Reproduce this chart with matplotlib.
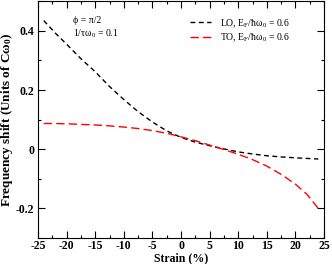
import matplotlib
matplotlib.use('Agg')
import matplotlib.pyplot as plt
from matplotlib.ticker import MultipleLocator

plt.rcParams['font.family'] = ['Liberation Serif', 'DejaVu Serif']
plt.rcParams['mathtext.fontset'] = 'custom'
plt.rcParams['mathtext.rm'] = 'Liberation Serif'
plt.rcParams['mathtext.it'] = 'Liberation Serif:italic'
plt.rcParams['mathtext.bf'] = 'Liberation Serif:bold'
plt.rcParams['mathtext.default'] = 'regular'
plt.rcParams['axes.unicode_minus'] = False

# data
strain = [-24, -22, -20, -17.5, -15, -12.5, -10, -7.5, -5, -2.5, 0, 2.5, 5, 7.5, 10, 12.5, 15, 17.5, 20, 22, 24]
lo_shift = [0.435, 0.393, 0.355, 0.306, 0.262, 0.212, 0.168, 0.127, 0.092, 0.062, 0.040, 0.024, 0.012, 0.001, -0.009,
            -0.016, -0.022, -0.026, -0.029, -0.031, -0.033]
to_shift = [0.087, 0.087, 0.086, 0.084, 0.082, 0.079, 0.075, 0.070, 0.063, 0.054, 0.042, 0.029, 0.014, -0.001, -0.017,
            -0.035, -0.057, -0.085, -0.118, -0.152, -0.200]
xticks = [-25, -20, -15, -10, -5, 0, 5, 10, 15, 20, 25]
yticks = [-0.2, 0, 0.2, 0.4]
yticklabels = ['-0.2', '0', '0.2', '0.4']

fig = plt.figure(figsize=(3.32, 2.64), dpi=100)
ax = fig.add_axes([0.1145, 0.0985, 0.8615, 0.8965])

ax.plot(strain, lo_shift, color='black', lw=1.0, dashes=(3.5, 2.5),
        label='LO, E$_F$/ħω$_0$ = 0.6')
ax.plot(strain, to_shift, color='red', lw=1.0, dashes=(6, 3),
        label='TO, E$_F$/ħω$_0$ = 0.6')

ax.set_xlim(-25, 25)
ax.set_ylim(-0.3, 0.5)
ax.set_xticks(xticks)
ax.set_xticklabels([str(v) for v in xticks], fontweight='bold', fontsize=8.5)
ax.set_yticks(yticks)
ax.set_yticklabels(yticklabels, fontweight='bold', fontsize=8.5)
ax.xaxis.set_minor_locator(MultipleLocator(2.5))
ax.yaxis.set_minor_locator(MultipleLocator(0.1))
ax.tick_params(which='both', direction='in', top=True, right=True, width=0.8)
ax.tick_params(which='major', length=5, pad=2.5)
ax.tick_params(axis='x', which='major', pad=1.5)
ax.tick_params(which='minor', length=2.5)

ax.set_xlabel('Strain (%)', fontsize=8.5, fontweight='bold')
ax.set_ylabel('Frequency shift (Units of Cω$_0$)', fontsize=9.5, fontweight='bold', labelpad=1)
ax.xaxis.set_label_coords(0.5, -0.062)

ax.text(0.122, 0.91, 'ϕ = π/2', transform=ax.transAxes, fontsize=7)
ax.text(0.122, 0.85, '1/τω$_0$ = 0.1', transform=ax.transAxes, fontsize=7)

ax.legend(loc='upper right', bbox_to_anchor=(0.91, 0.97), frameon=False, fontsize=7,
          handlelength=2.2, handletextpad=0.9, labelspacing=0.2)

fig.savefig('out.png', dpi=100)
